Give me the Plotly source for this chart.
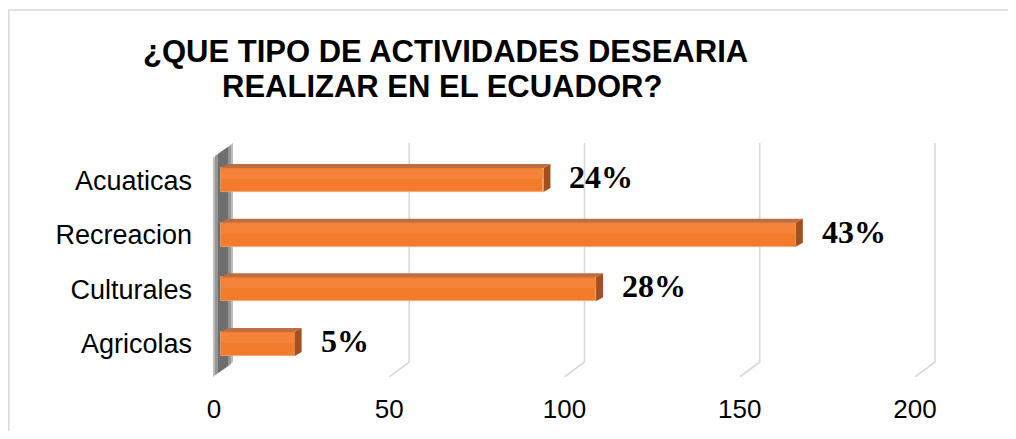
import plotly.graph_objects as go

# ---- data ----
categories = ["Agricolas", "Culturales", "Recreacion", "Acuaticas"]   # bottom -> top
values = [21, 107, 164, 92]
pct_labels = ["5%", "28%", "43%", "24%"]
x_ticks = [0, 50, 100, 150, 200]
title_lines = ["¿QUE TIPO DE ACTIVIDADES DESEARIA", "REALIZAR EN EL ECUADOR?"]

# ---- layout constants (page pixels; the page body adds an 8px margin) ----
OFF = 8
W, H = 1016 - 2 * OFF, 439 - 2 * OFF
PLOT_LEFT, PLOT_RIGHT, PLOT_TOP, PLOT_BOTTOM = 205, 945, 143, 377
L = PLOT_LEFT - OFF
T = PLOT_TOP - OFF
R = W - (PLOT_RIGHT - OFF)
B = H - (PLOT_BOTTOM - OFF)
plot_w = W - L - R
plot_h = H - T - B
x_range = [-4.565, 206.56]
y_range = [-0.606, 3.679]
px_per_x = plot_w / (x_range[1] - x_range[0])
px_per_y = plot_h / (y_range[1] - y_range[0])

bar_w = 0.44
dx = 7 / px_per_x      # 3D depth offset in data units
dy = 4 / px_per_y

FRONT = "#F27B2C"
TOP = "#BF6D43"
SIDE = "#A3501E"
GRID = "#D9D9D9"


def px_to_paper(px, py):
    """page pixel -> paper coords"""
    return (px - OFF - L) / plot_w, 1 - (py - OFF - T) / plot_h


ys = list(range(len(categories)))

fig = go.Figure()
fig.add_trace(go.Bar(
    x=values, y=ys, orientation="h", width=bar_w,
    marker=dict(color=FRONT, line=dict(color="#F5A070", width=0.8)),
    hoverinfo="x+y", showlegend=False,
))

shapes = []
# back-wall grid lines with 3D floor slant (pixel offsets from each tick value)
for v in x_ticks:
    if v == 0:
        continue
    shapes.append(dict(
        type="path", xref="x", yref="y", xsizemode="pixel", ysizemode="pixel",
        xanchor=v, yanchor=y_range[0],
        path="M -7,0 L 13,15 L 13,234",
        line=dict(color=GRID, width=1.6), layer="below",
    ))

# left wall (gray shaded strip)
wall_layers = [
    ("M -8,0 L 12,15 L 12,234 L -8,219 Z", "#BDBDBD"),
    ("M -6,2 L 10,13 L 10,232 L -6,221 Z", "#959595"),
    ("M -3,4 L 7,11 L 7,230 L -3,223 Z", "#6E6E6E"),
]
for path, col in wall_layers:
    shapes.append(dict(
        type="path", xref="x", yref="y", xsizemode="pixel", ysizemode="pixel",
        xanchor=0, yanchor=y_range[0], path=path,
        fillcolor=col, line=dict(width=0), layer="below",
    ))

# 3D faces of bars (top and right side), derived from the values
for y, v in zip(ys, values):
    top = y + bar_w / 2
    bot = y - bar_w / 2
    shapes.append(dict(
        type="path", xref="x", yref="y",
        path=f"M 0,{top} L {dx},{top+dy} L {v+dx},{top+dy} L {v},{top} Z",
        fillcolor=TOP, line=dict(width=0),
    ))
    shapes.append(dict(
        type="path", xref="x", yref="y",
        path=f"M {v},{top} L {v+dx},{top+dy} L {v+dx},{bot+dy} L {v},{bot} Z",
        fillcolor=SIDE, line=dict(width=0),
    ))
    # lighter upper half of the front face (gradient impression)
    shapes.append(dict(
        type="rect", xref="x", yref="y",
        x0=0, x1=v, y0=y + bar_w * 0.05, y1=top - 0.02,
        fillcolor="#F5873F", line=dict(width=0), opacity=0.8,
    ))

# chart border (only left and top edges are visible in the crop)
bx0, by0 = px_to_paper(8.8, 10)
bx1, by1 = px_to_paper(1040, 470)
shapes.append(dict(type="path", xref="paper", yref="paper",
                   path=f"M {bx0},{by1} L {bx0},{by0} L {bx1},{by0}",
                   line=dict(color=GRID, width=1.5)))

annotations = []
for y, v, t in zip(ys, values, pct_labels):
    annotations.append(dict(
        x=v, y=y, xref="x", yref="y", text=f"<b>{t}</b>", showarrow=False,
        xanchor="left", yanchor="middle", xshift=24, yshift=3,
        font=dict(family="Liberation Serif", size=32, color="#000000"),
    ))

for i, (line, cx, cy) in enumerate(zip(title_lines, [445, 442], [51, 86])):
    ax, ay = px_to_paper(cx, cy)
    annotations.append(dict(
        x=ax, y=ay, xref="paper", yref="paper", text=f"<b>{line}</b>",
        showarrow=False, xanchor="center", yanchor="middle",
        font=dict(family="Liberation Sans", size=31, color="#000000"),
    ))

fig.update_layout(
    width=W, height=H,
    margin=dict(l=L, r=R, t=T, b=B, autoexpand=False),
    paper_bgcolor="white", plot_bgcolor="white",
    shapes=shapes, annotations=annotations,
    bargap=0,
    xaxis=dict(range=x_range, tickvals=x_ticks, showgrid=False, zeroline=False,
               showline=False, ticks="", ticklabelstandoff=14, ticklabelshift=-7,
               tickfont=dict(family="Liberation Sans", size=26, color="#000000")),
    yaxis=dict(range=y_range, tickvals=ys, ticktext=categories, showgrid=False,
               zeroline=False, showline=False, ticks="", ticklabelstandoff=12,
               tickfont=dict(family="Liberation Sans", size=27, color="#000000")),
)

fig.write_html("out.html")
